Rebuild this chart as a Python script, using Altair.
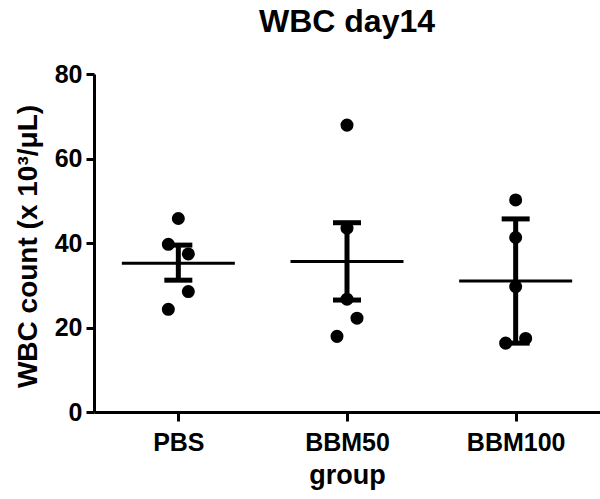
import altair as alt
import pandas as pd

groups = ["PBS", "BBM50", "BBM100"]

pbs_values = [45.8, 39.7, 37.4, 28.5, 24.3]
pbs_slots = [0, -1, 1, 1, -1]
bbm50_values = [67.9, 43.5, 26.7, 22.2, 17.9]
bbm50_slots = [0, 0, 0, 1, -1]
bbm100_values = [50.2, 41.3, 29.7, 16.3, 17.4]
bbm100_slots = [0, 0, 0, -1, 1]

# summary lines
means = [35.2, 35.6, 31.0]
err_low = [31.2, 26.5, 16.3]
err_high = [39.5, 44.8, 45.7]

y_ticks = [0, 20, 40, 60, 80]

points = pd.DataFrame({
    "group": ["PBS"] * 5 + ["BBM50"] * 5 + ["BBM100"] * 5,
    "value": pbs_values + bbm50_values + bbm100_values,
    "slot": pbs_slots + bbm50_slots + bbm100_slots,
})
summary = pd.DataFrame({"group": groups, "mean": means, "lo": err_low, "hi": err_high})

FONT = "Liberation Sans"

x_enc = alt.X(
    "group:N",
    sort=groups,
    scale=alt.Scale(type="point", padding=0.5),
    axis=alt.Axis(
        title="group",
        labelAngle=0,
        labelFont=FONT, labelFontSize=25, labelFontWeight="bold", labelColor="black",
        labelBaseline="alphabetic", labelPadding=29,
        titleFont=FONT, titleFontSize=27, titleFontWeight="bold", titleColor="black",
        titleBaseline="alphabetic", titleY=71,
        tickSize=9, tickWidth=3, tickColor="black",
        domainWidth=3, domainColor="black", grid=False,
    ),
)

y_scale = alt.Scale(domain=[0, 80], nice=False, zero=True)
y_axis = alt.Axis(
    values=y_ticks,
    title="WBC count (x 10³/μL)",
    labelFont=FONT, labelFontSize=25, labelFontWeight="bold", labelColor="black",
    labelPadding=4,
    titleFont=FONT, titleFontSize=28, titleFontWeight="bold", titleColor="black",
    titleAngle=270, titleAlign="center", titleBaseline="alphabetic",
    titleX=-58, titleY=172,
    tickSize=8, tickWidth=3, tickColor="black",
    domainWidth=3, domainColor="black", grid=False,
)

base_sum = alt.Chart(summary)

stems = base_sum.mark_rule(color="black", strokeWidth=5).encode(
    x=x_enc, y=alt.Y("lo:Q", scale=y_scale, axis=y_axis), y2="hi:Q"
)
cap_hi = base_sum.mark_tick(color="black", thickness=5, size=28, opacity=1).encode(
    x=x_enc, y=alt.Y("hi:Q", scale=y_scale)
)
cap_lo = base_sum.mark_tick(color="black", thickness=5, size=28, opacity=1).encode(
    x=x_enc, y=alt.Y("lo:Q", scale=y_scale)
)
mean_line = base_sum.mark_tick(color="black", thickness=3, size=113, opacity=1).encode(
    x=x_enc, y=alt.Y("mean:Q", scale=y_scale)
)
dots = alt.Chart(points).mark_circle(color="black", size=170, opacity=1).encode(
    x=x_enc,
    y=alt.Y("value:Q", scale=y_scale),
    xOffset=alt.XOffset("slot:Q", scale=alt.Scale(domain=[-1, 1], range=[-10, 10])),
)

chart = alt.layer(stems, cap_hi, cap_lo, mean_line, dots).properties(
    width=506,
    height=338,
    title=alt.Title(
        "WBC day14", font=FONT, fontSize=32, fontWeight="bold", color="black",
        anchor="middle", baseline="alphabetic", offset=39, dy=41,
    ),
    autosize=alt.AutoSizeParams(type="none"),
    padding={"left": 94, "top": 74, "right": 0, "bottom": 87},
    background="white",
).configure_view(stroke=None)

chart.save("out.html", embed_options={"renderer": "svg", "actions": False})
